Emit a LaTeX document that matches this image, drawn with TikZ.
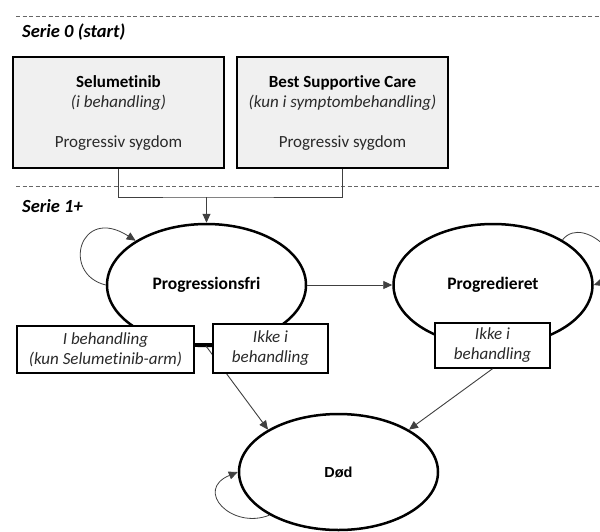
\documentclass[tikz,border=0pt]{standalone}
\usepackage{fontspec}
\setmainfont{Carlito}[Ligatures=NoCommon]
\newfontfamily\arialfont{Liberation Sans}
\usetikzlibrary{shapes.geometric,arrows.meta}
\definecolor{boxgray}{HTML}{F0F0F0}
\definecolor{txtgray}{HTML}{2A2A2A}
\definecolor{linegray}{HTML}{404040}
\begin{document}
\begin{tikzpicture}[x=1pt,y=-1pt,
  every node/.style={font=\fontsize{17}{20}\selectfont, inner sep=0pt, text=txtgray},
  sectionline/.style={draw=black!60, line width=1pt, dash pattern=on 4pt off 2.5pt},
  sectionlabel/.style={anchor=west, font=\fontsize{18.5}{20}\selectfont\bfseries\itshape, text=black},
  armbox/.style={draw=black, fill=boxgray, line width=1.5pt, minimum width=211pt, minimum height=111pt, align=center},
  state/.style={ellipse, draw=black, line width=2.5pt, fill=white, minimum width=199pt, minimum height=122pt, font=\fontsize{17.5}{20}\selectfont\bfseries, text=black},
  tagbox/.style={draw=black, fill=white, line width=1.5pt, align=center, font=\fontsize{17}{20}\selectfont\itshape},
  conn/.style={draw=linegray, line width=0.9pt},
  arr/.style={draw=linegray, line width=0.9pt, -{Triangle[length=9pt,width=8pt]}},
  selfloop/.style={draw=linegray, line width=0.8pt, -{Triangle[length=9pt,width=8pt]}}
]
\fill[white] (0,0) rectangle (600,531);

% section separators
\coordinate (d1a) at (16,16.5);
\coordinate (d1b) at (600,16.5);
\coordinate (d2a) at (16,186);
\coordinate (d2b) at (600,186);
\draw[sectionline] (d1a) -- (d1b);
\draw[sectionline] (d2a) -- (d2b);
\node[sectionlabel] (s0) at (22,32) {Serie 0 (start)};
\node[sectionlabel] (s1) at (22,206) {Serie 1+};

% arms
\node[armbox] (sel) at (118.5,112.5) {{\bfseries\color{black}Selumetinib}\\{\itshape (i behandling)}\\[20pt]Progressiv sygdom};
\node[armbox] (bsc) at (342.5,112.5) {{\bfseries\color{black}Best Supportive Care}\\{\itshape (kun i symptombehandling)}\\[20pt]Progressiv sygdom};

% states
\node[state] (pf) at (206.5,285) {Progressionsfri};
\node[state] (pg) at (493,285) {Progredieret};
\node[state, minimum height=116pt, font=\arialfont\fontsize{14.5}{17}\selectfont\bfseries] (dod) at (338.5,472) {Død};

% arms to progression free
\coordinate (join) at (206.5,197);
\draw[conn] (sel.south) |- (join) -| (bsc.south);
\draw[arr] (join) -- (pf.north);

% transitions
\draw[arr] (pf.east) -- (pg.west);
\coordinate (split) at (206,346);
\draw[arr] (split) -- (dod.149);

% self loops
\begin{scope}
\clip (0,0) rectangle (600,531);
\draw[selfloop] (pf.180) .. controls +(-45,-11) and +(-56,-36) .. (pf.148);
\draw[selfloop] (pg.33) .. controls +(22,-28) and +(46,-15) .. (pg.0);
\draw[selfloop] (dod.212) .. controls +(-38,15) and +(-44,18) .. (dod.180);
\end{scope}

% treatment tags
\node[tagbox, minimum width=177pt, minimum height=47pt] (ib) at (105.5,349.5) {I behandling\\(kun Selumetinib-arm)};
\node[tagbox, minimum width=115pt, minimum height=49pt] (ik1) at (270.5,348.5) {Ikke i\\behandling};
\node[tagbox, minimum width=115pt, minimum height=45pt] (ik2) at (492.5,345.5) {Ikke i\\behandling};
\coordinate (tie) at (203,344);
\draw[draw=black, line width=2pt] (ib.east |- tie) -- (ik1.west |- tie);
\draw[arr] (ik2.south) -- (dod.31);
\pgfresetboundingbox
\path[use as bounding box] (0,0) rectangle (600,531);
\end{tikzpicture}
\end{document}
